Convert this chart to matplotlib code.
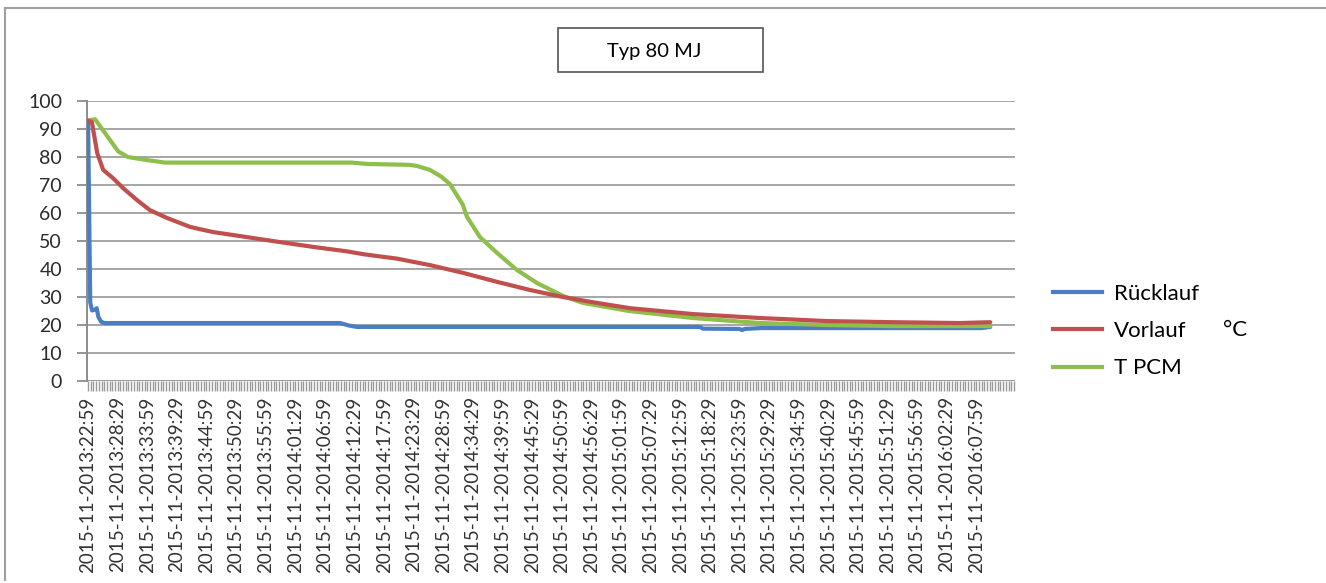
import matplotlib
matplotlib.use("Agg")
import matplotlib.pyplot as plt
from matplotlib.lines import Line2D
from matplotlib.patches import Rectangle

# ---- data (minutes after 2015-11-20 13:22:59) ----
ruck_t = [0, 0.4, 0.75, 1.3, 1.6, 1.9, 2.4, 3.0, 46.8, 48.5, 50.0, 113.7, 114.2, 121.0,
          121.5, 122.0, 125.0, 166.0, 167.6]
ruck_v = [92.5, 28.0, 25.2, 25.5, 26.0, 23.0, 21.2, 20.7, 20.7, 19.8, 19.3, 19.3, 18.7, 18.6,
          18.2, 18.6, 18.9, 18.9, 19.3]

vor_t = [0, 0.7, 1.7, 2.8, 4.6, 6.5, 9.1, 11.5, 14.7, 19.0, 23.2, 29.5, 35.7, 41.8, 48.1,
         51.1, 54.2, 57.4, 63.5, 69.7, 76.0, 82.1, 88.2, 94.5, 100.7, 112.4, 124.8,
         137.3, 149.5, 162.0, 167.6]
vor_v = [93.0, 92.5, 81.4, 75.4, 72.5, 68.9, 64.6, 61.0, 58.2, 55.0, 53.2, 51.4, 49.6, 47.9,
         46.3, 45.3, 44.5, 43.7, 41.4, 38.6, 35.4, 32.5, 30.0, 27.9, 26.0, 23.9, 22.5,
         21.4, 21.0, 20.7, 21.0]

pcm_t = [0, 1.3, 4.1, 5.6, 7.4, 10.6, 14.3, 49.0, 52.0, 59.7, 61.1, 63.5, 65.6, 67.2, 68.5,
         69.6, 70.4, 72.8, 76.0, 79.7, 83.4, 88.2, 91.9, 100.5, 112.4, 124.8, 137.3,
         149.5, 167.6]
pcm_v = [93.0, 93.5, 86.0, 82.0, 80.0, 79.0, 78.0, 78.0, 77.5, 77.2, 76.8, 75.4, 73.0, 70.4,
         66.4, 63.0, 58.6, 51.4, 45.7, 39.6, 35.0, 30.4, 27.9, 25.0, 22.5, 20.7, 20.0,
         19.6, 19.6]

tick_labels = [
    "2015-11-2013:22:59", "2015-11-2013:28:29", "2015-11-2013:33:59", "2015-11-2013:39:29",
    "2015-11-2013:44:59", "2015-11-2013:50:29", "2015-11-2013:55:59", "2015-11-2014:01:29",
    "2015-11-2014:06:59", "2015-11-2014:12:29", "2015-11-2014:17:59", "2015-11-2014:23:29",
    "2015-11-2014:28:59", "2015-11-2014:34:29", "2015-11-2014:39:59", "2015-11-2014:45:29",
    "2015-11-2014:50:59", "2015-11-2014:56:29", "2015-11-2015:01:59", "2015-11-2015:07:29",
    "2015-11-2015:12:59", "2015-11-2015:18:29", "2015-11-2015:23:59", "2015-11-2015:29:29",
    "2015-11-2015:34:59", "2015-11-2015:40:29", "2015-11-2015:45:59", "2015-11-2015:51:29",
    "2015-11-2015:56:59", "2015-11-2016:02:29", "2015-11-2016:07:59",
]
tick_pos = [i * 5.5 for i in range(len(tick_labels))]
series_names = ["Rücklauf", "Vorlauf", "T PCM"]
colors = ["#4A7EC4", "#C0504D", "#8DBF4A"]
title = "Typ 80 MJ"

plt.rcParams['font.family'] = ['Lato', 'DejaVu Sans']

W, H = 1326, 583
fig = plt.figure(figsize=(W / 100, H / 100), dpi=100)
fig.patch.set_facecolor("white")

def fx(px):
    return px / W

def fy(py):
    return 1 - py / H

ax = fig.add_axes([fx(87), fy(381), fx(1015) - fx(87), fy(101) - fy(381)])
ax.set_xlim(-0.2, 172.2)
ax.set_ylim(0, 100)

grid_c = "#A6A6A6"
for spine in ["top", "right", "bottom"]:
    ax.spines[spine].set_visible(False)
ax.spines["left"].set_color("#8C8C8C")
ax.spines["left"].set_linewidth(1.4)
ax.set_yticks(range(0, 101, 10))
ax.yaxis.grid(True, color=grid_c, linewidth=1.4)
ax.set_axisbelow(True)
ax.tick_params(axis="y", direction="out", length=7, width=1.3, color="#8C8C8C",
               labelsize=14, pad=11, labelcolor="#2a2a2a")

ax.set_xticks(tick_pos)
ax.set_xticklabels(tick_labels, rotation=90, fontsize=13.5, color="#333333")
ax.set_xticks([i * 0.5 for i in range(345)], minor=True)
ax.tick_params(axis="x", which="major", direction="out", length=7, width=1.0,
               color="#9A9A9A", pad=4)
ax.tick_params(axis="x", which="minor", direction="out", length=7, width=1.0,
               color="#9A9A9A")
ax.axhline(0, color="#9A9A9A", linewidth=1.3, zorder=1)

lw = 3.0
ax.plot(ruck_t, ruck_v, color=colors[0], linewidth=lw, solid_capstyle="round",
        solid_joinstyle="round", zorder=3)
ax.plot(vor_t, vor_v, color=colors[1], linewidth=lw, solid_capstyle="round",
        solid_joinstyle="round", zorder=4)
ax.plot(pcm_t, pcm_v, color=colors[2], linewidth=lw, solid_capstyle="round",
        solid_joinstyle="round", zorder=3.5)

handles = [Line2D([0], [0], color=c, linewidth=3.0) for c in colors]
fig.legend(handles, series_names, loc="center left",
           bbox_to_anchor=(fx(1033), fy(331)), frameon=False, fontsize=16,
           handlelength=2.2, handletextpad=0.55, labelspacing=0.78)
fig.text(fx(1235), fy(330), "°C", fontsize=16, ha="center", va="center")

# title box
fig.patches.append(Rectangle((fx(558), fy(72)), fx(763) - fx(558), fy(28) - fy(72),
                             transform=fig.transFigure, facecolor="white",
                             edgecolor="#555555", linewidth=1.2))
fig.text(fx(654), fy(51), title, fontsize=14.5, ha="center", va="center")

# chart area frame
fig.lines.append(Line2D([fx(5), 1.0], [fy(8), fy(8)], transform=fig.transFigure,
                        color="#A0A0A0", linewidth=1.5))
fig.lines.append(Line2D([fx(5), fx(5)], [fy(8), fy(580)], transform=fig.transFigure,
                        color="#A0A0A0", linewidth=1.5))

fig.savefig("out.png", dpi=100)
